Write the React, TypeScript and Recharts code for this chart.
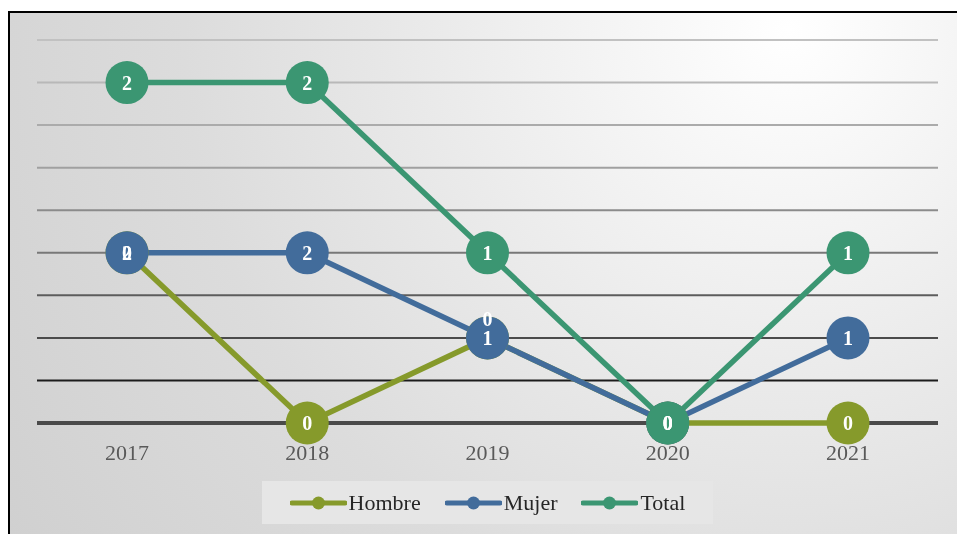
import { AreaChart, Area, XAxis, YAxis, CartesianGrid, Legend } from "recharts";

const years = ["2017", "2018", "2019", "2020", "2021"];
const hombre = [2, 0, 1, 0, 0];
const mujer = [0, 2, 0, 0, 1];
const total = [2, 2, 1, 0, 1];
const yTicks = [0, 0.5, 1, 1.5, 2, 2.5, 3, 3.5, 4, 4.5];

const data = years.map((year, i) => ({
  year,
  Hombre: hombre[i],
  Mujer: mujer[i],
  Total: total[i],
}));

const series = [
  { key: "Hombre", color: "#869a2b" },
  { key: "Mujer", color: "#426c9b" },
  { key: "Total", color: "#3b9672" },
];

// grid gets darker towards the bottom (index 0 = baseline)
const gridColors = ["#4a4a4a", "#1c1c1c", "#4b4b4b", "#5c5c5c", "#787878", "#8b8b8b", "#a0a0a0", "#ababab", "#b8b8b8", "#c1c1c1"];
const gridWidths = [4, 2, 2, 2, 2, 2, 2, 2, 2, 2];

// Mujer 2019 label was nudged up in the original
const labelLift: Record<string, number> = { "Mujer-2019": -19 };

const serif = "'Liberation Serif', 'Times New Roman', serif";

function makeMarker(color: string) {
  return (p: any) => {
    if (p.cx == null || p.cy == null) return <g key={p.index} />;
    return <circle key={p.index} cx={p.cx} cy={p.cy} r={21.5} fill={color} stroke="none" />;
  };
}

function makeLabel(key: string) {
  return (p: any) => {
    if (p.cx == null || p.cy == null) return <g key={p.index} />;
    const lift = labelLift[key + "-" + p.payload.year] || 0;
    return (
      <text
        key={p.index}
        x={p.cx}
        y={p.cy + lift}
        dy={7}
        textAnchor="middle"
        fill="#ffffff"
        fontFamily={serif}
        fontWeight="bold"
        fontSize={20}
      >
        {p.payload[key]}
      </text>
    );
  };
}

function gridLine(p: any) {
  const i = p.index ?? 0;
  return (
    <line
      key={p.key ?? i}
      x1={p.x1}
      x2={p.x2}
      y1={p.y1}
      y2={p.y2}
      stroke={gridColors[i] || "#c1c1c1"}
      strokeWidth={gridWidths[i] || 2}
    />
  );
}

function LegendBox() {
  return (
    <div
      style={{
        margin: "0 auto",
        width: 451,
        height: 43,
        background: "#e6e6e6",
        display: "flex",
        alignItems: "center",
        justifyContent: "center",
        fontFamily: serif,
        fontSize: 22,
        color: "#262626",
      }}
    >
      {series.map((s, i) => (
        <span key={s.key} style={{ display: "flex", alignItems: "center", marginLeft: i ? 24 : 0 }}>
          <svg width={57} height={14}>
            <line x1={2} y1={7} x2={55} y2={7} stroke={s.color} strokeWidth={5} strokeLinecap="round" />
            <circle cx={28.5} cy={7} r={6.5} fill={s.color} />
          </svg>
          <span style={{ marginLeft: 2 }}>{s.key}</span>
        </span>
      ))}
    </div>
  );
}

export default function App() {
  return (
    <div
      style={{
        position: "fixed",
        left: 8,
        top: 11,
        width: 949,
        height: 523,
        borderLeft: "2px solid #000",
        borderTop: "2px solid #000",
        background: "radial-gradient(circle at 82% 3%, #ffffff 0%, #ececec 35%, #dcdcdc 65%, #d0d0d0 100%)",
        overflow: "hidden",
      }}
    >
      <AreaChart
        width={947}
        height={521}
        data={data}
        margin={{ top: 27, right: 19, bottom: 10, left: 27 }}
      >
        <CartesianGrid vertical={false} horizontal={gridLine} />
        <XAxis
          dataKey="year"
          padding={{ left: 90, right: 90 }}
          axisLine={false}
          tickLine={false}
          height={58}
          tickMargin={15}
          tick={{ fill: "#595959", fontSize: 22, fontFamily: serif }}
        />
        <YAxis hide domain={[0, 4.5]} ticks={yTicks} />
        {series.map((s) => (
          <Area
            key={s.key}
            type="linear"
            dataKey={s.key}
            stackId="a"
            stroke={s.color}
            strokeWidth={5.5}
            fill="none"
            dot={makeMarker(s.color)}
            activeDot={false}
            isAnimationActive={false}
          />
        ))}
        {series.map((s) => (
          <Area
            key={s.key + "-lbl"}
            type="linear"
            dataKey={s.key}
            stackId="b"
            stroke="none"
            fill="none"
            legendType="none"
            dot={makeLabel(s.key)}
            activeDot={false}
            isAnimationActive={false}
          />
        ))}
        <Legend verticalAlign="bottom" height={43} content={() => <LegendBox />} />
      </AreaChart>
    </div>
  );
}
